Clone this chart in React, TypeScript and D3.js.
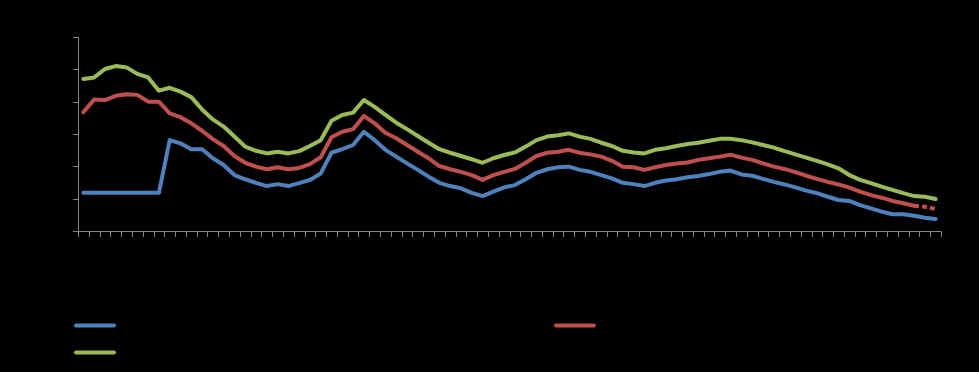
import { useEffect, useRef } from 'react';
import * as d3 from 'd3';

// values, one per period (80 periods)
const blueValues = [
  11.8, 11.8, 11.8, 11.8, 11.8, 11.8, 11.8, 11.8, 28.1, 27.1,
  25.3, 25.3, 22.5, 20.4, 17.3, 16.0, 14.9, 13.9, 14.5, 13.9,
  14.8, 15.8, 17.8, 24.2, 25.3, 26.6, 30.7, 28.1, 25.1, 23.0,
  20.9, 18.9, 16.8, 14.9, 13.9, 13.2, 11.8, 10.8, 12.2, 13.5,
  14.2, 16.0, 18.0, 19.1, 19.7, 19.9, 18.9, 18.3, 17.3, 16.3,
  14.9, 14.5, 13.9, 14.9, 15.6, 16.0, 16.6, 17.0, 17.6, 18.3,
  18.7, 17.5, 17.1, 16.1, 15.2, 14.4, 13.5, 12.5, 11.7, 10.6,
  9.6, 9.3, 8.0, 7.0, 6.0, 5.2, 5.2, 4.7, 4.1, 3.7,
];

const redValues = [
  36.7, 40.7, 40.5, 41.8, 42.3, 42.1, 40.0, 40.0, 36.4, 35.2,
  33.3, 31.0, 28.4, 26.3, 23.2, 21.1, 19.9, 19.1, 19.7, 19.1,
  19.5, 20.7, 22.8, 29.0, 30.7, 31.5, 35.6, 33.3, 30.4, 28.7,
  26.6, 24.5, 22.5, 20.1, 19.1, 18.3, 17.3, 15.8, 17.3, 18.3,
  19.2, 21.1, 23.2, 24.2, 24.5, 25.1, 24.2, 23.7, 23.0, 21.7,
  19.9, 19.7, 18.9, 19.7, 20.4, 20.9, 21.2, 22.0, 22.5, 23.0,
  23.6, 22.7, 22.0, 20.9, 19.9, 19.2, 18.2, 17.1, 16.1, 15.2,
  14.4, 13.4, 12.2, 11.1, 10.3, 9.3, 8.6, 7.8, 7.5, 6.8,
];

const greenValues = [
  47.0, 47.5, 50.1, 51.0, 50.6, 48.6, 47.5, 43.4, 44.3, 43.1,
  41.4, 37.6, 34.5, 32.3, 29.2, 26.1, 24.8, 24.0, 24.5, 24.0,
  24.7, 26.3, 28.1, 34.1, 35.9, 36.6, 40.5, 38.4, 35.9, 33.5,
  31.5, 29.4, 27.3, 25.3, 24.2, 23.2, 22.2, 21.1, 22.5, 23.5,
  24.3, 26.1, 28.1, 29.2, 29.6, 30.2, 29.2, 28.5, 27.3, 26.3,
  24.8, 24.3, 24.0, 25.1, 25.6, 26.3, 26.9, 27.3, 27.9, 28.5,
  28.5, 28.1, 27.4, 26.6, 25.8, 24.7, 23.7, 22.7, 21.7, 20.6,
  19.4, 17.3, 15.8, 14.8, 13.7, 12.7, 11.7, 10.8, 10.6, 9.9,
];

const categories = blueValues.map((_, i) => String(i + 1));
const yTicks = [0, 10, 20, 30, 40, 50, 60];

// last periods of the red series are drawn dashed
const redDashedFrom = 77;

const series = [
  { name: 'Series 1', color: '#4F81BD', values: blueValues, dashFrom: -1 },
  { name: 'Series 2', color: '#C0504D', values: redValues, dashFrom: redDashedFrom },
  { name: 'Series 3', color: '#9BBB59', values: greenValues, dashFrom: -1 },
];

const W = 979;
const H = 372;
const axisColor = '#868686';

export default function App() {
  const ref = useRef<SVGSVGElement | null>(null);

  useEffect(() => {
    document.body.style.margin = '0';
    document.body.style.background = '#000';
    if (!ref.current) return;

    const svg = d3.select(ref.current);
    svg.selectAll('*').remove();

    svg.append('rect').attr('width', W).attr('height', H).attr('fill', '#000');

    const x = d3.scaleBand<string>().domain(categories).range([78, 941]).padding(0);
    const y = d3.scaleLinear().domain([0, 60]).range([231, 37]);

    const g = svg.append('g');

    // y axis
    g.append('line')
      .attr('x1', 78.5).attr('x2', 78.5)
      .attr('y1', y(60)).attr('y2', y(0) + 0.5)
      .attr('stroke', axisColor);
    g.selectAll('.ytick')
      .data(yTicks)
      .enter()
      .append('line')
      .attr('x1', 73).attr('x2', 78.5)
      .attr('y1', d => Math.round(y(d)) + 0.5)
      .attr('y2', d => Math.round(y(d)) + 0.5)
      .attr('stroke', axisColor);

    // x axis, ticks between categories
    g.append('line')
      .attr('x1', 78).attr('x2', 941.5)
      .attr('y1', y(0) + 0.5).attr('y2', y(0) + 0.5)
      .attr('stroke', axisColor);
    const boundaries = [...categories.map(c => x(c)!), 941];
    g.selectAll('.xtick')
      .data(boundaries)
      .enter()
      .append('line')
      .attr('x1', d => Math.round(d) + 0.5)
      .attr('x2', d => Math.round(d) + 0.5)
      .attr('y1', y(0) + 0.5).attr('y2', y(0) + 6)
      .attr('stroke', axisColor);

    const line = d3
      .line<[number, number]>()
      .x(d => x(categories[d[0]])! + x.bandwidth() / 2)
      .y(d => y(d[1]));

    series.forEach(s => {
      const pts = s.values.map((v, i) => [i, v] as [number, number]);
      const solid = s.dashFrom > 0 ? pts.slice(0, s.dashFrom + 1) : pts;
      g.append('path')
        .datum(solid)
        .attr('fill', 'none')
        .attr('stroke', s.color)
        .attr('stroke-width', 4)
        .attr('stroke-linejoin', 'round')
        .attr('stroke-linecap', 'round')
        .attr('d', line);
      if (s.dashFrom > 0) {
        g.append('path')
          .datum(pts.slice(s.dashFrom))
          .attr('fill', 'none')
          .attr('stroke', s.color)
          .attr('stroke-width', 4)
          .attr('stroke-dasharray', '5,3')
          .attr('d', line);
      }
    });

    // legend
    const legend = [
      { s: series[0], x: 76, y: 325.5 },
      { s: series[1], x: 556, y: 325.5 },
      { s: series[2], x: 76, y: 352.5 },
    ];
    legend.forEach(l => {
      g.append('line')
        .attr('x1', l.x).attr('x2', l.x + 38)
        .attr('y1', l.y).attr('y2', l.y)
        .attr('stroke', l.s.color)
        .attr('stroke-width', 4)
        .attr('stroke-linecap', 'round');
    });
  }, []);

  return <svg ref={ref} width={W} height={H} style={{ display: 'block' }}></svg>;
}
